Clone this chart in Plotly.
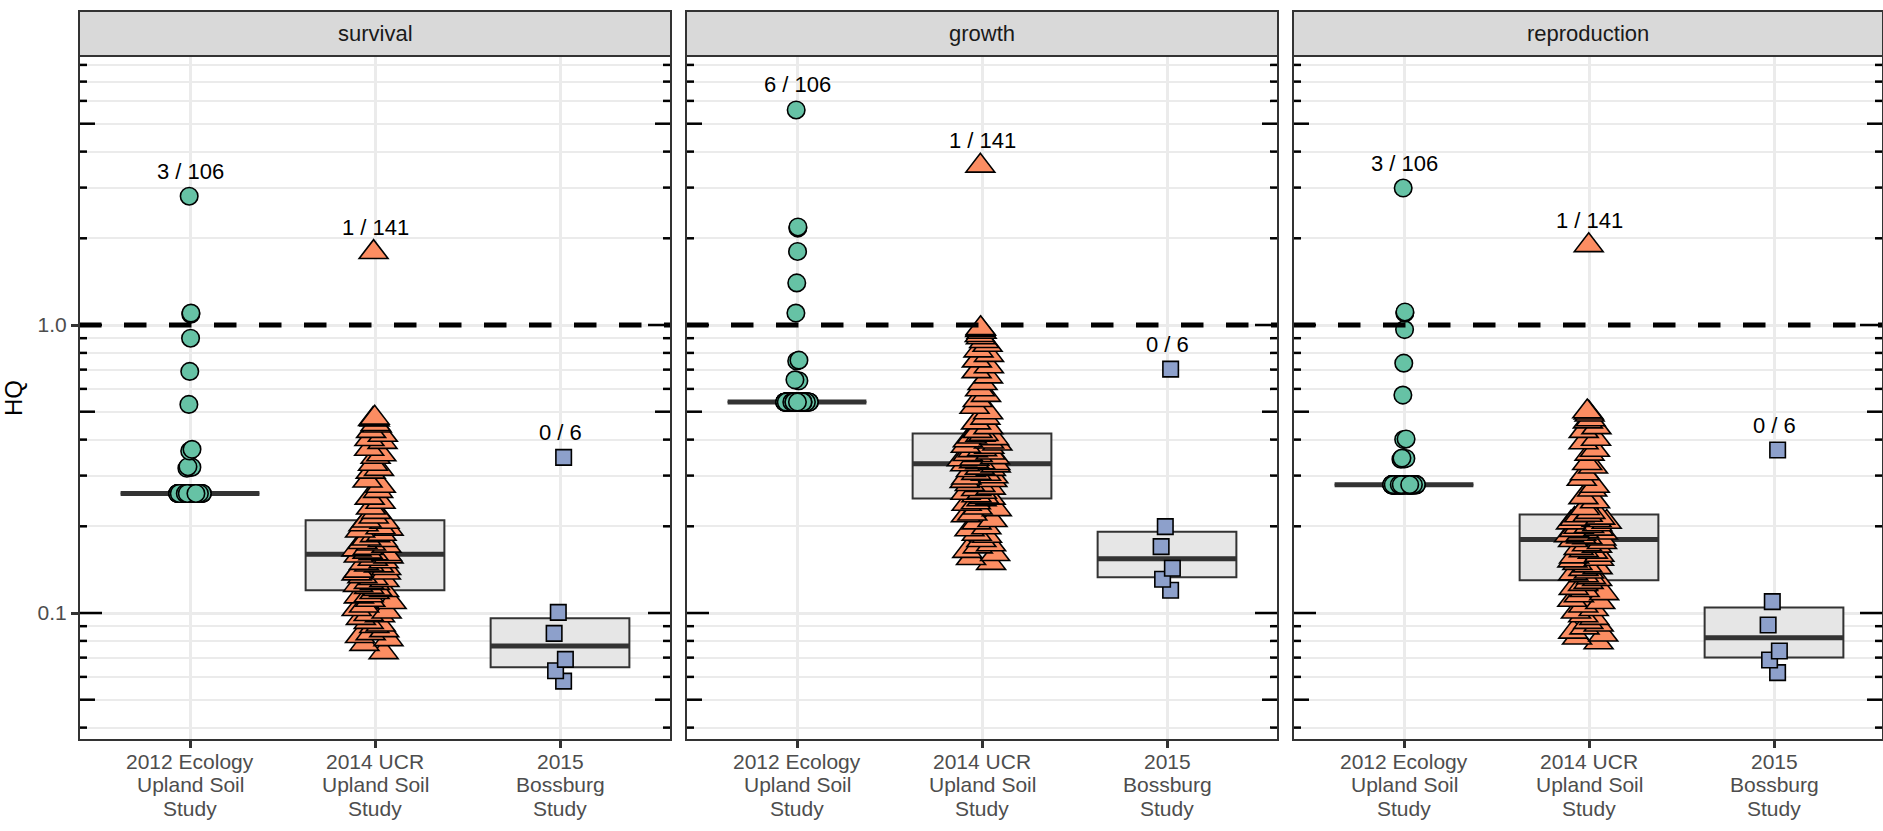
import math
import plotly.graph_objects as go

# ---------------- data ----------------
panels = ["survival", "growth", "reproduction"]
studies = [["2012 Ecology", "Upland Soil", "Study"],
           ["2014 UCR", "Upland Soil", "Study"],
           ["2015", "Bossburg", "Study"]]

# 2012 Ecology Upland Soil Study (n = 106)
eco_survival = [2.80, 1.10, 1.09, 0.90, 0.69, 0.53, 0.37, 0.365, 0.322, 0.320, 0.318, 0.321] + [0.26] * 94
eco_growth = [5.58, 2.19, 2.17, 1.80, 1.40, 1.10, 0.755, 0.75, 0.645, 0.64] + [0.54] * 96
eco_reproduction = [2.99, 1.11, 1.10, 0.964, 0.737, 0.571, 0.402, 0.400, 0.344, 0.342, 0.343, 0.345] + [0.279] * 94

# 2014 UCR Upland Soil Study (n = 141, shown as the visible cloud)
ucr_survival = [
    1.79,
    0.476, 0.471, 0.469, 0.452, 0.447, 0.428, 0.415, 0.401, 0.392, 0.371,
    0.355, 0.348, 0.329, 0.316, 0.309, 0.288, 0.276, 0.265, 0.251, 0.243, 0.232, 0.224, 0.216,
    0.209, 0.207, 0.203, 0.198, 0.196, 0.193, 0.188, 0.186, 0.181, 0.179, 0.176, 0.174, 0.171, 0.168, 0.166, 0.163, 0.161, 0.160,
    0.158, 0.157, 0.154, 0.151, 0.149, 0.147, 0.146, 0.143, 0.140, 0.138, 0.137, 0.134, 0.132, 0.130, 0.128, 0.127, 0.125, 0.123, 0.121, 0.120,
    0.118, 0.115, 0.114, 0.111, 0.109, 0.106, 0.103, 0.101, 0.099, 0.098, 0.096, 0.093, 0.091, 0.090, 0.087, 0.085, 0.083, 0.081, 0.078, 0.073,
]
ucr_growth = [
    3.57,
    0.974, 0.968, 0.960, 0.946, 0.921, 0.905, 0.878, 0.852, 0.815, 0.786, 0.752, 0.718, 0.690, 0.662, 0.628, 0.597, 0.571, 0.548, 0.519, 0.497, 0.476, 0.458, 0.441, 0.428,
    0.418, 0.415, 0.409, 0.404, 0.397, 0.393, 0.387, 0.380, 0.377, 0.370, 0.367, 0.360, 0.356, 0.353, 0.347, 0.343, 0.341, 0.336, 0.333, 0.331,
    0.328, 0.325, 0.319, 0.316, 0.313, 0.306, 0.304, 0.298, 0.295, 0.289, 0.287, 0.280, 0.278, 0.272, 0.269, 0.263, 0.261, 0.256, 0.253, 0.251,
    0.248, 0.242, 0.239, 0.232, 0.229, 0.221, 0.218, 0.210, 0.206, 0.198, 0.195, 0.188, 0.185, 0.179, 0.173, 0.170, 0.164, 0.160, 0.155, 0.149,
]
ucr_reproduction = [
    1.89,
    0.501, 0.496, 0.488, 0.470, 0.462, 0.441, 0.428, 0.402, 0.391, 0.368, 0.357, 0.331, 0.322, 0.305, 0.292, 0.276, 0.268, 0.252, 0.244, 0.231, 0.224,
    0.219, 0.218, 0.214, 0.212, 0.210, 0.207, 0.206, 0.203, 0.200, 0.199, 0.196, 0.194, 0.192, 0.190, 0.188, 0.186, 0.184, 0.183, 0.181,
    0.179, 0.176, 0.173, 0.171, 0.168, 0.165, 0.163, 0.159, 0.157, 0.154, 0.152, 0.149, 0.146, 0.144, 0.142, 0.139, 0.137, 0.135, 0.133, 0.131,
    0.128, 0.126, 0.122, 0.120, 0.117, 0.115, 0.111, 0.109, 0.106, 0.103, 0.101, 0.098, 0.096, 0.093, 0.091, 0.089, 0.086, 0.084, 0.082, 0.079,
]

# 2015 Bossburg Study (n = 6)
bos_survival = [0.347, 0.1005, 0.085, 0.069, 0.063, 0.058]
bos_growth = [0.703, 0.1995, 0.170, 0.143, 0.131, 0.120]
bos_reproduction = [0.368, 0.1095, 0.0909, 0.0738, 0.0687, 0.0621]

# box statistics (Ecology, UCR, Bossburg)
box_q1 = {"survival": [0.26, 0.12, 0.0648], "growth": [0.54, 0.25, 0.133], "reproduction": [0.279, 0.13, 0.070]}
box_median = {"survival": [0.26, 0.16, 0.0768], "growth": [0.54, 0.33, 0.1544], "reproduction": [0.279, 0.18, 0.082]}
box_q3 = {"survival": [0.26, 0.21, 0.0958], "growth": [0.54, 0.42, 0.1916], "reproduction": [0.279, 0.22, 0.1045]}

# exceedance labels (n > 1 / n)
exceed_labels = {"survival": ["3 / 106", "1 / 141", "0 / 6"],
                 "growth": ["6 / 106", "1 / 141", "0 / 6"],
                 "reproduction": ["3 / 106", "1 / 141", "0 / 6"]}

threshold = 1.0
y_ticks = [0.1, 1.0]
y_ticktext = ["0.1", "1.0"]

data = {
    "survival": [eco_survival, ucr_survival, bos_survival],
    "growth": [eco_growth, ucr_growth, bos_growth],
    "reproduction": [eco_reproduction, ucr_reproduction, bos_reproduction],
}

# ---------------- styling / layout ----------------
W, H = 1883, 831
FONT = "Liberation Sans, Arial, sans-serif"
symbols = ["circle", "triangle-up", "square"]
sizes = [17.5, 25, 15.5]
colors = ["#66C2A5", "#FC8D62", "#8DA0CB"]
jitters = [0.18, 0.3, 0.1]

panel_left_px = [79, 686, 1293]
panel_w_px = 592
plot_top_px, plot_bot_px, strip_top_px = 56, 740, 11
y1_px, decade_px = 325, 288          # pixel of HQ = 1 and pixels per decade
xlab_first_px, xlab_step_px = 761.5, 23.3
ylo = -(plot_bot_px - y1_px) / decade_px
yhi = (y1_px - plot_top_px) / decade_px
ydom = [(H - plot_bot_px) / H, (H - plot_top_px) / H]
box_w = 0.75

minor_vals = [m * 10 ** e for e in (-2, -1, 0) for m in range(2, 10)]
minor_vals = [v for v in minor_vals if ylo < math.log10(v) < yhi]
tick_vals_all = sorted(minor_vals + y_ticks)

fig = go.Figure()
shapes, annotations = [], []
layout_axes = {}

for p, name in enumerate(panels):
    xa = "x" if p == 0 else f"x{p + 1}"
    ya = "y" if p == 0 else f"y{p + 1}"
    left = panel_left_px[p]
    right = min(left + panel_w_px, W)
    width_px = right - left
    xr = [-0.6, -0.6 + width_px * 3.2 / panel_w_px]

    # threshold line
    fig.add_trace(go.Scatter(x=[-0.6, 2.6], y=[threshold, threshold], mode="lines",
                             line=dict(color="black", width=5, dash="22.5px,22.5px"),
                             xaxis=xa, yaxis=ya, hoverinfo="skip", showlegend=False))
    # boxes
    for s in range(3):
        q1, md, q3 = box_q1[name][s], box_median[name][s], box_q3[name][s]
        fig.add_trace(go.Box(x=[s], q1=[q1], median=[md], q3=[q3], lowerfence=[q1], upperfence=[q3],
                             width=box_w, fillcolor="#E6E6E6", line=dict(color="#333333", width=2),
                             whiskerwidth=0, boxpoints=False, xaxis=xa, yaxis=ya,
                             hoverinfo="skip", showlegend=False))
        fig.add_trace(go.Box(x=[s], q1=[md], median=[md], q3=[md], lowerfence=[md], upperfence=[md],
                             width=box_w, fillcolor="rgba(0,0,0,0)", line=dict(color="#333333", width=5),
                             whiskerwidth=0, boxpoints=False, xaxis=xa, yaxis=ya,
                             hoverinfo="skip", showlegend=False))
    # points
    for s in range(3):
        vals = data[name][s]
        fig.add_trace(go.Box(x=[s] * len(vals), y=vals, boxpoints="all", jitter=jitters[s], pointpos=0,
                             width=box_w, fillcolor="rgba(0,0,0,0)",
                             line=dict(color="rgba(0,0,0,0)", width=0),
                             marker=dict(symbol=symbols[s], size=sizes[s], color=colors[s],
                                         line=dict(color="black", width=1.6)),
                             xaxis=xa, yaxis=ya, showlegend=False))
        annotations.append(dict(x=s, y=math.log10(max(vals)), xref=xa, yref=ya, yshift=25,
                                text=exceed_labels[name][s], showarrow=False,
                                font=dict(family=FONT, size=22, color="black")))
        # category label lines
        for k, line_txt in enumerate(studies[s]):
            annotations.append(dict(x=s, xref=xa, y=(H - (xlab_first_px + k * xlab_step_px)) / H,
                                    yref="paper", text=line_txt, showarrow=False,
                                    xanchor="center", yanchor="middle",
                                    font=dict(family=FONT, size=21, color="#4D4D4D")))

    layout_axes["xaxis" if p == 0 else f"xaxis{p + 1}"] = dict(
        domain=[left / W, right / W], range=xr, anchor=ya, tickvals=[0, 1, 2], showticklabels=False,
        showgrid=True, gridcolor="#EBEBEB", gridwidth=3, zeroline=False, showline=False,
        ticks="outside", ticklen=7, tickwidth=2.5, tickcolor="#333333", fixedrange=True)
    layout_axes["yaxis" if p == 0 else f"yaxis{p + 1}"] = dict(
        domain=ydom, type="log", range=[ylo, yhi], anchor=xa, tickvals=y_ticks, ticktext=y_ticktext,
        showticklabels=(p == 0), ticks="outside" if p == 0 else "", ticklen=7, tickwidth=2.5,
        tickcolor="#333333", showgrid=True, gridcolor="#EBEBEB", gridwidth=3, zeroline=False,
        showline=False, minor=dict(tickvals=minor_vals, showgrid=True, gridcolor="#EBEBEB", gridwidth=1.5),
        tickfont=dict(family=FONT, size=21, color="#4D4D4D"), fixedrange=True)

    # log ticks (inside, both sides)
    for v in tick_vals_all:
        mant = v / 10 ** math.floor(math.log10(v) + 1e-9)
        L = 23 if abs(mant - 1) < 1e-6 else (16 if abs(mant - 5) < 1e-6 else 8)
        for x0, x1 in ((0, L / width_px), (1 - L / width_px, 1)):
            shapes.append(dict(type="line", xref=f"{xa} domain", yref=ya, x0=x0, x1=x1, y0=v, y1=v,
                               line=dict(color="black", width=2.5), layer="above"))
    # panel border
    shapes.append(dict(type="rect", xref=f"{xa} domain", yref=f"{ya} domain", x0=0, x1=1, y0=0, y1=1,
                       line=dict(color="#333333", width=2), fillcolor="rgba(0,0,0,0)", layer="above"))
    # strip
    shapes.append(dict(type="rect", xref=f"{xa} domain", yref="paper", x0=0, x1=1,
                       y0=(H - plot_top_px) / H, y1=(H - strip_top_px) / H,
                       line=dict(color="#333333", width=2), fillcolor="#D9D9D9", layer="above"))
    annotations.append(dict(x=0.5, xref=f"{xa} domain", y=(H - (plot_top_px + strip_top_px) / 2) / H,
                            yref="paper", text=name, showarrow=False, xanchor="center", yanchor="middle",
                            font=dict(family=FONT, size=22, color="#1A1A1A")))

annotations.append(dict(x=14 / W, y=(H - (plot_top_px + plot_bot_px) / 2) / H, xref="paper", yref="paper",
                        text="HQ", textangle=-90, showarrow=False, xanchor="center", yanchor="middle",
                        font=dict(family=FONT, size=24, color="black")))

fig.update_layout(
    width=W, height=H, autosize=False,
    margin=dict(l=0, r=0, t=0, b=0, pad=0),
    paper_bgcolor="white", plot_bgcolor="white",
    showlegend=False, boxmode="overlay",
    shapes=shapes, annotations=annotations,
    font=dict(family=FONT),
    **layout_axes,
)

fig.write_html("out.html", config={"displayModeBar": False},
               post_script="document.body.style.margin='0';document.body.style.overflow='hidden';")
